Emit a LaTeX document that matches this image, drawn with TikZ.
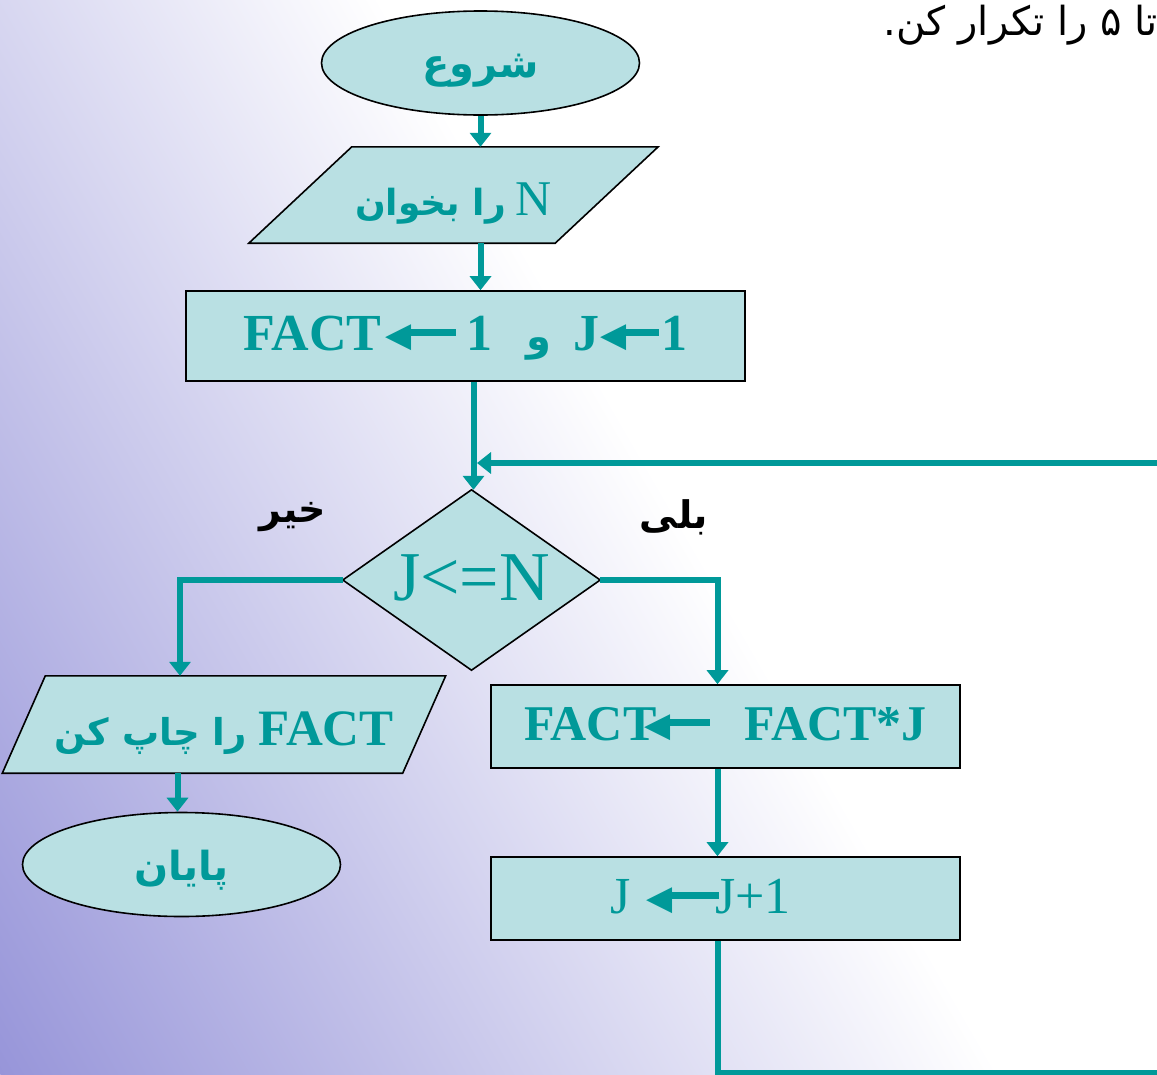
\documentclass[tikz,border=0pt]{standalone}
\usepackage{fontspec}
\setmainfont{Liberation Serif}
\newfontfamily\arabicfont[Script=Arabic]{DejaVu Sans}
\newfontfamily\symfont{DejaVu Sans}
\TeXXeTstate=1
\usetikzlibrary{arrows.meta,shapes.geometric}
\definecolor{tealc}{HTML}{009999}
\definecolor{boxfill}{HTML}{B9E0E3}
\definecolor{bgdark}{HTML}{9795D9}
\pgfdeclarelayer{bglayer}
\pgfdeclarelayer{shapelayer}
\pgfsetlayers{bglayer,shapelayer,main}
\newcommand\tarr[1]{{\symfont\fontsize{34}{34}\selectfont\raisebox{3.5pt}{◀}}\kern-5pt\rule[14.5pt]{#1}{6.5pt}}
\begin{document}
\begin{tikzpicture}[x=1pt,y=-1pt,
  conn/.style={draw=tealc, line width=6pt, -{Triangle[length=14pt,width=21pt]}},
  boxstyle/.style={draw=black, line width=1.6pt, fill=boxfill},
  termnode/.style={ellipse, boxstyle, inner sep=0pt, minimum width=318pt, minimum height=104pt, text=tealc},
  procnode/.style={rectangle, boxstyle, inner sep=0pt, text=tealc},
  ghost/.style={rectangle, inner sep=0pt, text=tealc},
  tlabel/.style={inner sep=0pt, text=black, font=\arabicfont\bfseries\fontsize{38}{44}\selectfont},
  arfont/.style={font=\arabicfont\bfseries\fontsize{40}{46}\selectfont}]
\useasboundingbox (0,0) rectangle (1157,1074);
\begin{pgfonlayer}{bglayer}
\begin{scope}
\clip (0,0) rectangle (1157,1074);
\fill[white] (0,0) rectangle (1157,1074);
\begin{scope}[transform canvas={rotate around={-60:(0,1074)}}]
\shade[top color=white, bottom color=bgdark] (-2500,1074) rectangle (2500,208);
\end{scope}
\end{scope}
\end{pgfonlayer}
\clip (0,0) rectangle (1157,1074);

% nodes
\node[termnode, arfont, text height=28pt, text depth=0pt] (start) at (480.5,63) {\beginR شروع\endR};
\node[ghost, minimum width=306pt, minimum height=96pt, text height=40pt, text depth=0pt] (read) at (453.5,195)
  {{\arabicfont\bfseries\fontsize{36}{42}\selectfont\beginR را بخوان\endR}\hspace{10pt}{\fontsize{50}{56}\selectfont N}};
\node[procnode, minimum width=559pt, minimum height=90pt, text height=28pt, text depth=0pt] (init) at (465.5,336)
  {\fontsize{52}{58}\selectfont\bfseries FACT\kern4pt\tarr{50pt}\kern10pt 1\hspace{34pt}{\arabicfont\fontsize{40}{46}\selectfont و}\hspace{22pt}J\kern1pt\tarr{38pt}\kern2pt 1};
\node[ghost, minimum width=257pt, minimum height=180pt, text height=40pt, text depth=0pt] (dec) at (471.5,580)
  {\fontsize{70}{76}\selectfont J<=N};
\node[tlabel] (no) at (293,517) {\beginR خیر\endR};
\node[tlabel] (yes) at (674,517) {\beginR بلی\endR};
\node[ghost, minimum width=400pt, minimum height=97pt, text height=41pt, text depth=0pt] (print) at (224,724.5)
  {{\arabicfont\bfseries\fontsize{37}{43}\selectfont\beginR را چاپ کن\endR}\hspace{12pt}{\fontsize{51}{57}\selectfont\bfseries FACT}};
\node[termnode, arfont, text height=32pt, text depth=0pt] (end) at (181.5,864.5) {\beginR پایان\endR};
\node[procnode, minimum width=469pt, minimum height=83pt, text height=27pt, text depth=0pt] (r2) at (725.5,726.5)
  {\fontsize{50}{56}\selectfont\bfseries FACT\kern-12pt\tarr{44pt}\hspace{35pt}FACT*J};
\node[procnode, minimum width=469pt, minimum height=83pt, text height=29pt, text depth=0pt] (r3) at (725.5,898.5)
  {\fontsize{52}{58}\selectfont J\kern16pt\tarr{52pt}\kern-4pt J+1\kern50pt\mbox{}};
\node[anchor=east, inner sep=0pt, text=black, font=\arabicfont\fontsize{40}{46}\selectfont] (note) at (1158,25)
  {\beginR تا ۵ را تکرار کن.\endR};

% parallelograms and diamond
\begin{pgfonlayer}{shapelayer}
\draw[boxstyle] ([xshift=51.5pt]read.north west) -- ([xshift=51.5pt]read.north east)
  -- ([xshift=-51.5pt]read.south east) -- ([xshift=-51.5pt]read.south west) -- cycle;
\draw[boxstyle] ([xshift=21.5pt]print.north west) -- ([xshift=21.5pt]print.north east)
  -- ([xshift=-21.5pt]print.south east) -- ([xshift=-21.5pt]print.south west) -- cycle;
\draw[boxstyle] (dec.north) -- (dec.east) -- (dec.south) -- (dec.west) -- cycle;
\end{pgfonlayer}

% connectors
\coordinate (ycol) at (717.5,0);
\coordinate (ncol) at (180,0);
\coordinate (loopin) at (477,463);
\coordinate (farright) at (1200,1073);
\draw[conn] (start.south) -- (start.south |- read.north);
\draw[conn] (start.south |- read.south) -- (start.south |- init.north);
\draw[conn] ([xshift=2pt]dec.north |- init.south) -- ([xshift=2pt]dec.north);
\draw[conn] (ycol |- r3.south) |- (farright) |- (loopin);
\draw[conn] (dec.west) -| (ncol |- print.north);
\draw[conn] (dec.east) -| (ycol |- r2.north);
\draw[conn] (ycol |- r2.south) -- (ycol |- r3.north);
\draw[conn] ([xshift=-4pt]end.north |- print.south) -- ([xshift=-4pt]end.north);
\end{tikzpicture}
\end{document}
